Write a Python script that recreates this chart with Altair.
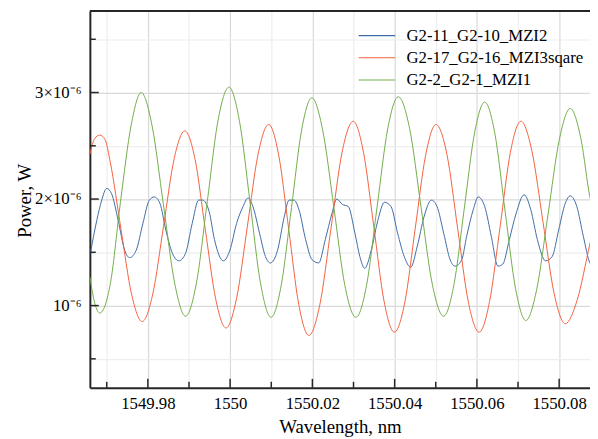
import altair as alt
import pandas as pd

series_names = ["G2-11_G2-10_MZI2", "G2-17_G2-16_MZI3sqare", "G2-2_G2-1_MZI1"]
series_colors = ["#3f6ca6", "#f4613d", "#72ad4a"]

# Wavelength (nm) and power (in units of 1e-6 W)
blue_wl = [1549.96602, 1549.96758, 1549.96878, 1549.96998, 1549.97118, 1549.97278, 1549.97436,
           1549.97556, 1549.97717, 1549.97878, 1549.98036, 1549.98156, 1549.98293, 1549.98436,
           1549.98597, 1549.98755, 1549.98916, 1549.99077, 1549.99235, 1549.99331, 1549.99492,
           1549.99619, 1549.99835, 1549.99995, 1550.00156, 1550.00314, 1550.00434, 1550.00554,
           1550.00715, 1550.00859, 1550.00978, 1550.01154, 1550.01314, 1550.01434, 1550.01554,
           1550.01674, 1550.01835, 1550.01993, 1550.02154, 1550.02314, 1550.02473, 1550.02592,
           1550.02729, 1550.02873, 1550.03034, 1550.03154, 1550.03273, 1550.03432, 1550.03592,
           1550.03753, 1550.03911, 1550.04072, 1550.04233, 1550.04391, 1550.04552, 1550.04712,
           1550.04895, 1550.05031, 1550.05192, 1550.05350, 1550.05470, 1550.05631, 1550.05751,
           1550.05911, 1550.06031, 1550.06190, 1550.06350, 1550.06511, 1550.06631, 1550.06789,
           1550.06950, 1550.07149, 1550.07310, 1550.07470, 1550.07669, 1550.07830, 1550.07988,
           1550.08149, 1550.08269, 1550.08429, 1550.08588, 1550.08748, 1550.08820]
blue_uw = [1.49, 1.80, 1.99, 2.10, 2.05, 1.80, 1.52,
           1.45, 1.52, 1.77, 1.99, 2.02, 1.96, 1.71,
           1.49, 1.42, 1.49, 1.77, 1.99, 1.99, 1.88,
           1.62, 1.42, 1.52, 1.77, 1.93, 2.01, 1.93,
           1.68, 1.46, 1.40, 1.52, 1.83, 1.99, 1.99,
           1.90, 1.62, 1.43, 1.40, 1.62, 1.86, 2.00,
           1.95, 1.93, 1.68, 1.46, 1.35, 1.52, 1.80,
           1.97, 1.93, 1.68, 1.46, 1.36, 1.56, 1.83,
           1.99, 1.93, 1.68, 1.43, 1.37, 1.43, 1.65,
           1.90, 2.02, 1.93, 1.65, 1.37, 1.39, 1.62,
           1.86, 2.04, 1.90, 1.62, 1.42, 1.46, 1.71,
           1.96, 2.03, 1.93, 1.65, 1.40, 1.37]

red_wl = [1549.96590, 1549.96710, 1549.96830, 1549.96957, 1549.97089, 1549.97345, 1549.97602,
          1549.97861, 1549.98120, 1549.98381, 1549.98640, 1549.98899, 1549.99149, 1549.99396,
          1549.99650, 1549.99899, 1550.00158, 1550.00420, 1550.00679, 1550.00938, 1550.01182,
          1550.01427, 1550.01669, 1550.01914, 1550.02182, 1550.02453, 1550.02722, 1550.02993,
          1550.03242, 1550.03494, 1550.03743, 1550.03993, 1550.04247, 1550.04501, 1550.04753,
          1550.05007, 1550.05271, 1550.05532, 1550.05794, 1550.06055, 1550.06309, 1550.06564,
          1550.06815, 1550.07070, 1550.07338, 1550.07609, 1550.07880, 1550.08149, 1550.08437,
          1550.08748, 1550.08820]
red_uw = [2.42, 2.57, 2.60, 2.56, 2.34, 1.72, 1.11,
          0.85, 1.11, 1.745, 2.38, 2.64, 2.37, 1.715,
          1.06, 0.79, 1.07, 1.745, 2.42, 2.70, 2.41,
          1.71, 1.01, 0.72, 1.01, 1.725, 2.44, 2.73,
          2.44, 1.74, 1.04, 0.75, 1.03, 1.725, 2.41,
          2.70, 2.42, 1.725, 1.03, 0.75, 1.04, 1.74,
          2.44, 2.73, 2.45, 1.78, 1.11, 0.83, 1.05,
          1.58, 1.70]

green_wl = [1549.96590, 1549.96710, 1549.96830, 1549.97094, 1549.97333, 1549.97597, 1549.97837,
            1549.98101, 1549.98377, 1549.98652, 1549.98916, 1549.99180, 1549.99444, 1549.99707,
            1549.99971, 1550.00228, 1550.00484, 1550.00739, 1550.00995, 1550.01242, 1550.01492,
            1550.01739, 1550.01986, 1550.02249, 1550.02523, 1550.02789, 1550.03058, 1550.03317,
            1550.03573, 1550.03832, 1550.04089, 1550.04365, 1550.04640, 1550.04916, 1550.05192,
            1550.05439, 1550.05691, 1550.05943, 1550.06190, 1550.06439, 1550.06686, 1550.06940,
            1550.07190, 1550.07453, 1550.07729, 1550.08005, 1550.08269, 1550.08532, 1550.08748,
            1550.08820]
green_uw = [1.27, 1.02, 0.93, 1.22, 1.97, 2.70, 3.00,
            2.69, 1.95, 1.21, 0.90, 1.21, 1.975, 2.74,
            3.05, 2.73, 1.97, 1.21, 0.89, 1.19, 1.92,
            2.65, 2.95, 2.65, 1.92, 1.19, 0.89, 1.19,
            1.925, 2.66, 2.96, 2.66, 1.93, 1.20, 0.90,
            1.19, 1.905, 2.62, 2.91, 2.61, 1.885, 1.16,
            0.86, 1.15, 1.855, 2.56, 2.85, 2.56, 2.02,
            1.90]

x_grid_values = [1549.97, 1549.98, 1549.99, 1550.0, 1550.01, 1550.02, 1550.03,
                 1550.04, 1550.05, 1550.06, 1550.07, 1550.08]
x_major_ticks = [1549.98, 1550.0, 1550.02, 1550.04, 1550.06, 1550.08]
x_minor_ticks = [1549.97, 1549.99, 1550.01, 1550.03, 1550.05, 1550.07]
y_grid_values = [0.5e-6, 1.0e-6, 1.5e-6, 2.0e-6, 2.5e-6, 3.0e-6, 3.5e-6]
y_major_ticks = [1.0e-6, 2.0e-6, 3.0e-6]
y_minor_ticks = [0.5e-6, 1.5e-6, 2.5e-6, 3.5e-6]

frames = []
for name, wl, uw in [(series_names[0], blue_wl, blue_uw),
                     (series_names[1], red_wl, red_uw),
                     (series_names[2], green_wl, green_uw)]:
    frames.append(pd.DataFrame({"wl": wl, "power": [v * 1e-6 for v in uw], "series": name}))
df = pd.concat(frames, ignore_index=True)

W, H = 507, 382
FONT = "Liberation Serif"
AX = "#262626"

xs = alt.Scale(domain=[1549.9659, 1550.0875], nice=False, zero=False)
ys = alt.Scale(domain=[0.2287e-6, 3.766e-6], nice=False, zero=False)

x_axis = alt.Axis(
    values=x_grid_values, grid=True,
    gridColor={"condition": {"test": "round(datum.value*100) % 2 == 0", "value": "#d9d9d9"}, "value": "#eeeeee"},
    gridWidth=1.2,
    ticks=False, tickSize=0, labelOverlap=False, labelFlush=False,
    labelExpr="(round(datum.value*100) % 2 == 0) ? format(datum.value, '.2~f') : ''",
    labelFont=FONT, labelFontSize=17, labelColor="black", labelPadding=8,
    domainColor=AX, domainWidth=2,
    title="Wavelength, nm", titleFont=FONT, titleFontSize=19, titleFontWeight="normal",
    titleColor="black", titlePadding=6,
)
y_axis = alt.Axis(
    values=y_grid_values, grid=True,
    gridColor={"condition": {"test": "abs(datum.value*1e6 - round(datum.value*1e6)) < 0.01", "value": "#d9d9d9"}, "value": "#eeeeee"},
    gridWidth=1.2,
    ticks=False, tickSize=0, labelOverlap=False, labelFlush=False,
    labelExpr="abs(datum.value*1e6 - round(datum.value*1e6)) < 0.01 ? (round(datum.value*1e6) == 1 ? '10\u207b\u2076' : round(datum.value*1e6) + '\u00d710\u207b\u2076') : ''",
    labelFont=FONT, labelFontSize=17, labelColor="black", labelPadding=9,
    domainColor=AX, domainWidth=2,
    title="Power, W", titleFont=FONT, titleFontSize=19, titleFontWeight="normal",
    titleColor="black", titleX=-66, titleY=192, titleAngle=270, titleBaseline="middle", titleAlign="center",
)

lines = alt.Chart(df).mark_line(strokeWidth=1, interpolate="monotone", clip=True).encode(
    x=alt.X("wl:Q", scale=xs, axis=x_axis),
    y=alt.Y("power:Q", scale=ys, axis=y_axis),
    color=alt.Color("series:N", sort=series_names,
                    scale=alt.Scale(domain=series_names, range=series_colors),
                    legend=alt.Legend(title=None, orient="none", legendX=281, legendY=15,
                                      symbolType="M-2,0H2", symbolSize=342, symbolStrokeWidth=1.2,
                                      labelFont=FONT, labelFontSize=17, labelColor="black",
                                      labelLimit=400, labelOffset=20, rowPadding=4.5, padding=0)),
)

xt_major = alt.Chart(pd.DataFrame({"wl": x_major_ticks})).mark_rule(color=AX, strokeWidth=1.5).encode(
    x=alt.X("wl:Q", scale=xs), y=alt.value(H), y2=alt.value(H - 9))
xt_minor = alt.Chart(pd.DataFrame({"wl": x_minor_ticks})).mark_rule(color=AX, strokeWidth=1.5).encode(
    x=alt.X("wl:Q", scale=xs), y=alt.value(H), y2=alt.value(H - 6))
yt_major = alt.Chart(pd.DataFrame({"power": y_major_ticks})).mark_rule(color=AX, strokeWidth=1.5).encode(
    y=alt.Y("power:Q", scale=ys), x=alt.value(0), x2=alt.value(9))
yt_minor = alt.Chart(pd.DataFrame({"power": y_minor_ticks})).mark_rule(color=AX, strokeWidth=1.5).encode(
    y=alt.Y("power:Q", scale=ys), x=alt.value(0), x2=alt.value(6))
top_line = alt.Chart(pd.DataFrame({"k": [0]})).mark_rule(color=AX, strokeWidth=2).encode(
    x=alt.value(0), x2=alt.value(W), y=alt.value(0))

chart = alt.layer(lines, xt_major, xt_minor, yt_major, yt_minor, top_line).properties(
    width=W, height=H,
    autosize=alt.AutoSizeParams(type="none"),
    padding={"left": 83, "top": 0, "right": 0, "bottom": 49},
    background="white",
).configure_view(stroke=None)

chart.save("out.html", embed_options={"renderer": "svg", "actions": False})
